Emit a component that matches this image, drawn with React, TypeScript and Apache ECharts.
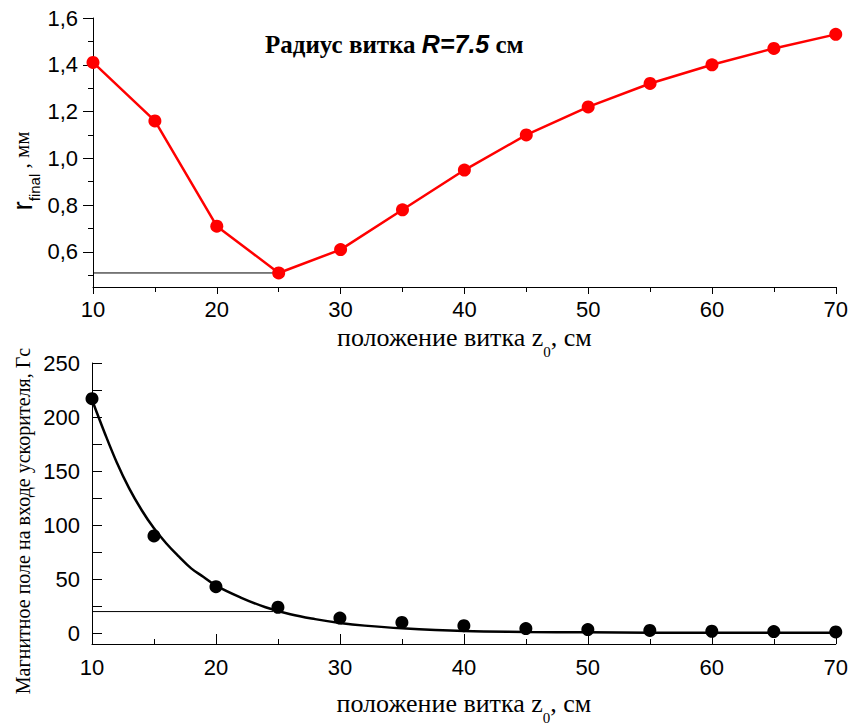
import React, { useEffect, useRef } from "react";
import * as echarts from "echarts";

// ---- data ----
const zPositions = [10, 15, 20, 25, 30, 35, 40, 45, 50, 55, 60, 65, 70];
const rFinal = [1.41, 1.16, 0.71, 0.51, 0.61, 0.78, 0.95, 1.1, 1.22, 1.32, 1.4, 1.47, 1.53];
const fieldMeasured = [217, 90, 43, 24, 14, 10, 7, 4.3, 3.4, 2.5, 1.8, 1.5, 1.2];

const fitZ = [10, 11, 12, 13, 14, 15, 16, 17, 18, 19, 20, 22, 24, 26, 28, 30, 32, 35, 40, 45, 50, 55, 60, 65, 70];
const fitField = [216, 186, 158, 134, 114, 97, 83, 71, 60, 52, 44, 33, 24, 17.5, 13, 9.5, 7, 4.5, 2, 1.2, 0.8, 0.5, 0.4, 0.3, 0.3];

const rMinLineZ = [10, 25];
const rMinLineValue = [0.51, 0.51];
const fieldLineZ = [10, 24.6];
const fieldLineValue = [20, 20];

const rMajorTicks = [0.6, 0.8, 1.0, 1.2, 1.4, 1.6];
const rMinorTicks = [0.5, 0.7, 0.9, 1.1, 1.3, 1.5];
const fieldLabelTicks = [0, 50, 100, 150, 200, 250];
const fieldAllTicks = [0, 25, 50, 75, 100, 125, 150, 175, 200, 225, 250];

const SANS = "Liberation Sans";
const SERIF = "Liberation Serif";

const pairs = (xs: number[], ys: number[]) => xs.map((x, i) => [x, ys[i]]);

export default function App() {
  const ref = useRef<HTMLDivElement>(null);

  useEffect(() => {
    document.body.style.margin = "0";
    const chart = echarts.init(ref.current!, null, { renderer: "svg" });

    const axisLabelStyle = { color: "#000", fontFamily: SANS, fontSize: 22 };
    const black = { color: "#000", width: 1 };

    const xName = "{a|положение витка z}{s|0}{a|, см}";
    const xNameRich = {
      a: { fontFamily: SERIF, fontSize: 26, color: "#000" },
      s: { fontFamily: SERIF, fontSize: 15, color: "#000", padding: [28, 0, 0, 0] },
    };

    const option: any = {
      animation: false,
      backgroundColor: "#fff",
      grid: [
        { left: 93, right: 13, top: 18, height: 269, containLabel: false },
        { left: 92, right: 14, top: 363, height: 282, containLabel: false },
      ],
      xAxis: [
        {
          type: "value",
          gridIndex: 0,
          min: 10,
          max: 70,
          interval: 10,
          axisLine: { onZero: false, lineStyle: black },
          axisTick: { show: true, length: 7, inside: false, lineStyle: black },
          minorTick: { show: true, splitNumber: 2, length: 5, lineStyle: black },
          splitLine: { show: false },
          axisLabel: { ...axisLabelStyle, margin: 11 },
          name: xName,
          nameLocation: "middle",
          nameGap: 29,
          nameTextStyle: { rich: xNameRich },
        },
        {
          type: "value",
          gridIndex: 1,
          min: 10,
          max: 70,
          interval: 10,
          axisLine: { onZero: false, lineStyle: black },
          axisTick: { show: true, length: 10, inside: true, lineStyle: black },
          minorTick: { show: true, splitNumber: 2, length: 5, lineStyle: black },
          splitLine: { show: false },
          axisLabel: { ...axisLabelStyle, margin: 12 },
          name: xName,
          nameLocation: "middle",
          nameGap: 38,
          nameTextStyle: { rich: xNameRich },
        },
      ],
      yAxis: [
        {
          type: "value",
          gridIndex: 0,
          position: "left",
          min: 0.45,
          max: 1.6,
          axisLine: { show: true, onZero: false, lineStyle: black },
          axisTick: { show: true, length: 10, inside: false, customValues: rMajorTicks, lineStyle: black },
          splitLine: { show: false },
          axisLabel: {
            ...axisLabelStyle,
            margin: 15,
            customValues: rMajorTicks,
            formatter: (v: number) => v.toFixed(1).replace(".", ","),
          },
        },
        {
          type: "value",
          gridIndex: 0,
          position: "left",
          min: 0.45,
          max: 1.6,
          axisLine: { show: false },
          axisTick: { show: true, length: 5, inside: false, customValues: rMinorTicks, lineStyle: black },
          splitLine: { show: false },
          axisLabel: { show: false },
        },
        {
          type: "value",
          gridIndex: 1,
          position: "left",
          min: -10,
          max: 250,
          axisLine: { show: true, onZero: false, lineStyle: black },
          axisTick: { show: true, length: 10, inside: true, customValues: fieldAllTicks, lineStyle: black },
          splitLine: { show: false },
          axisLabel: { ...axisLabelStyle, margin: 12, customValues: fieldLabelTicks },
        },
      ],
      graphic: [
        {
          type: "text",
          x: 265,
          y: 44,
          style: {
            text: "{a|Радиус витка }{b|R=7.5}{a| см}",
            verticalAlign: "middle",
            align: "left",
            rich: {
              a: { fontFamily: SERIF, fontWeight: "bold", fontSize: 25, fill: "#000", color: "#000" },
              b: { fontFamily: SANS, fontWeight: "bold", fontStyle: "italic", fontSize: 25, fill: "#000", color: "#000" },
            },
          },
        },
        {
          type: "text",
          x: 22,
          y: 171,
          rotation: Math.PI / 2,
          style: {
            text: "{r|r}{s|final}{u| , мм}",
            align: "center",
            verticalAlign: "middle",
            rich: {
              r: { fontFamily: SANS, fontSize: 28, fill: "#000", color: "#000" },
              s: { fontFamily: SANS, fontSize: 15, fill: "#000", color: "#000", padding: [24, 0, 0, 0] },
              u: { fontFamily: SERIF, fontSize: 21, fill: "#000", color: "#000" },
            },
          },
        },
        {
          type: "text",
          x: 23,
          y: 521,
          rotation: Math.PI / 2,
          style: {
            text: "Магнитное поле на входе ускорителя, Гс",
            align: "center",
            verticalAlign: "middle",
            fontFamily: SERIF,
            fontSize: 20,
            fill: "#000",
          },
        },
      ],
      series: [
        {
          type: "line",
          xAxisIndex: 0,
          yAxisIndex: 0,
          data: pairs(rMinLineZ, rMinLineValue),
          symbol: "none",
          lineStyle: { color: "#000", width: 1 },
          z: 1,
        },
        {
          type: "line",
          xAxisIndex: 0,
          yAxisIndex: 0,
          data: pairs(zPositions, rFinal),
          symbol: "circle",
          symbolSize: 13,
          itemStyle: { color: "#ff0000", opacity: 1 },
          lineStyle: { color: "#ff0000", width: 2.5 },
          clip: false,
          z: 3,
        },
        {
          type: "line",
          xAxisIndex: 1,
          yAxisIndex: 2,
          data: pairs(fieldLineZ, fieldLineValue),
          symbol: "none",
          lineStyle: { color: "#000", width: 1 },
          z: 1,
        },
        {
          type: "line",
          xAxisIndex: 1,
          yAxisIndex: 2,
          data: pairs(fitZ, fitField),
          symbol: "none",
          smooth: 0.4,
          lineStyle: { color: "#000", width: 2.5 },
          z: 2,
        },
        {
          type: "scatter",
          xAxisIndex: 1,
          yAxisIndex: 2,
          data: pairs(zPositions, fieldMeasured),
          symbol: "circle",
          symbolSize: 13,
          itemStyle: { color: "#000", opacity: 1 },
          clip: false,
          z: 3,
        },
      ],
    };

    chart.setOption(option);
    return () => chart.dispose();
  }, []);

  return <div ref={ref} style={{ width: 851, height: 726 }} />;
}
